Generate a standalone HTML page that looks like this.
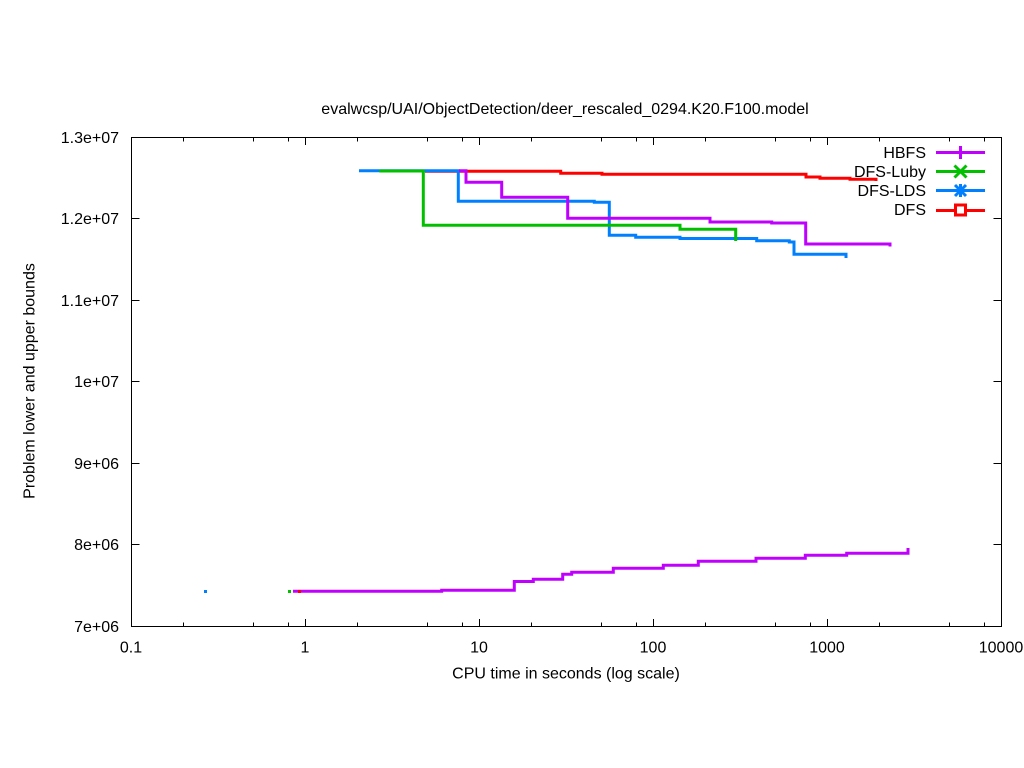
<!DOCTYPE html>
<html>
<head>
<meta charset="utf-8">
<style>
html,body{margin:0;padding:0;background:#fff;}
svg{display:block;}
text{font-family:"Liberation Sans",Arial,sans-serif;font-size:16px;fill:#000;}
</style>
</head>
<body>
<svg width="1024" height="768" viewBox="0 0 1024 768" xmlns="http://www.w3.org/2000/svg">
<rect x="0" y="0" width="1024" height="768" fill="#fff"/>

<!-- title -->
<text x="565" y="114" text-anchor="middle">evalwcsp/UAI/ObjectDetection/deer_rescaled_0294.K20.F100.model</text>

<!-- frame -->
<rect x="131.5" y="137.5" width="870" height="489" fill="none" stroke="#000" stroke-width="1"/>

<!-- y ticks -->
<g stroke="#000" stroke-width="1">
<path d="M131.5 626.5h8M1001.5 626.5h-8"/>
<path d="M131.5 544.5h8M1001.5 544.5h-8"/>
<path d="M131.5 463.5h8M1001.5 463.5h-8"/>
<path d="M131.5 381.5h8M1001.5 381.5h-8"/>
<path d="M131.5 300.5h8M1001.5 300.5h-8"/>
<path d="M131.5 218.5h8M1001.5 218.5h-8"/>
<path d="M131.5 137.5h8M1001.5 137.5h-8"/>
</g>
<g text-anchor="end">
<text x="119" y="632">7e+06</text>
<text x="119" y="550">8e+06</text>
<text x="119" y="469">9e+06</text>
<text x="119" y="387">1e+07</text>
<text x="119" y="306">1.1e+07</text>
<text x="119" y="224">1.2e+07</text>
<text x="119" y="143">1.3e+07</text>
</g>

<!-- x ticks -->
<g stroke="#000" stroke-width="1">
<path d="M131.5 626.5v-7.5M131.5 137.5v7.5"/>
<path d="M305.5 626.5v-7.5M305.5 137.5v7.5"/>
<path d="M479.5 626.5v-7.5M479.5 137.5v7.5"/>
<path d="M653.5 626.5v-7.5M653.5 137.5v7.5"/>
<path d="M827.5 626.5v-7.5M827.5 137.5v7.5"/>
<path d="M1001.5 626.5v-7.5M1001.5 137.5v7.5"/>
<!-- minor ticks at 2,5,8 -->
<path d="M183.5 626.5v-4M183.5 137.5v4M253.5 626.5v-4M253.5 137.5v4M288.5 626.5v-4M288.5 137.5v4"/>
<path d="M357.5 626.5v-4M357.5 137.5v4M427.5 626.5v-4M427.5 137.5v4M462.5 626.5v-4M462.5 137.5v4"/>
<path d="M531.5 626.5v-4M531.5 137.5v4M601.5 626.5v-4M601.5 137.5v4M636.5 626.5v-4M636.5 137.5v4"/>
<path d="M705.5 626.5v-4M705.5 137.5v4M775.5 626.5v-4M775.5 137.5v4M810.5 626.5v-4M810.5 137.5v4"/>
<path d="M879.5 626.5v-4M879.5 137.5v4M949.5 626.5v-4M949.5 137.5v4M984.5 626.5v-4M984.5 137.5v4"/>
</g>
<g text-anchor="middle">
<text x="131" y="652.5">0.1</text>
<text x="305" y="652.5">1</text>
<text x="479" y="652.5">10</text>
<text x="653" y="652.5">100</text>
<text x="827" y="652.5">1000</text>
<text x="1001" y="652.5">10000</text>
</g>

<!-- axis labels -->
<text x="566" y="678.5" text-anchor="middle">CPU time in seconds (log scale)</text>
<text transform="translate(34.5,381) rotate(-90)" text-anchor="middle">Problem lower and upper bounds</text>

<!-- series -->
<g fill="none" stroke-width="3" stroke-linejoin="miter" stroke-linecap="butt">
<!-- DFS red upper -->
<path stroke="#ff0000" d="M425 171.3H560.7V173.3H602V174.3H806V177H820V178.3H850V179.3H876V181"/>
<!-- DFS-LDS blue upper -->
<path stroke="#0080ff" d="M359 170.7H458.3V201.3H594.3V202.3H609.3V235.3H635.7V237.3H680V238.5H756.7V240.7H789.3V242H794V254.3H846V258"/>
<!-- DFS-Luby green upper -->
<path stroke="#00c000" d="M379.3 171H423.3V225.3H680V229.3H735.7V241"/>
<!-- HBFS purple upper -->
<path stroke="#c000ff" d="M459 170.7H466V182.3H501.7V197.3H567.7V218.3H710V222H771.7V223H805.7V244H890V246.5"/>
<!-- HBFS purple lower -->
<path stroke="#c000ff" d="M293 591.3H441.7V590.3H514.3V581.5H533.3V579.3H562.7V574.3H571.7V572.3H613.3V568.3H663.3V565.3H698.3V561.3H756V558.3H805.3V555.3H846.7V553.3H908V548"/>
</g>
<!-- lower bound dots -->
<rect x="204" y="590" width="3" height="3" fill="#0080ff"/>
<rect x="288" y="590" width="3" height="3" fill="#00c000"/>
<rect x="298" y="590" width="3" height="3" fill="#ff0000"/>

<!-- legend -->
<g text-anchor="end">
<text x="926" y="158">HBFS</text>
<text x="926" y="177">DFS-Luby</text>
<text x="926" y="196">DFS-LDS</text>
<text x="926" y="215">DFS</text>
</g>
<g fill="none" stroke-width="3">
<path stroke="#c000ff" d="M936 152.5H985M960.5 146V159"/>
<path stroke="#00c000" d="M936 171.5H985M954.5 165.5L966.5 177.5M966.5 165.5L954.5 177.5"/>
<path stroke="#0080ff" d="M936 190.5H985M955 185L966 196M966 185L955 196M960.5 184V197"/>
<path stroke="#ff0000" d="M936 210.5H955M966 210.5H985"/>
<rect x="955.5" y="205" width="10" height="10" stroke="#ff0000"/>
</g>
</svg>
</body>
</html>
